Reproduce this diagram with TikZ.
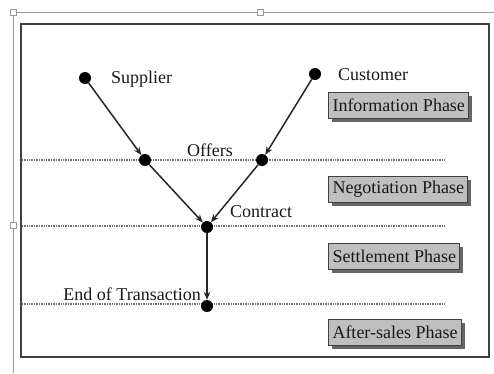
\documentclass[tikz,border=0pt]{standalone}
\usepackage{fontspec}
\setmainfont{Liberation Serif}
\usetikzlibrary{arrows.meta,shadows}
\tikzset{
  dot/.style={circle,fill=black,inner sep=0pt,minimum size=12pt},
  lbl/.style={font=\fontsize{18}{20}\selectfont,text=black!90,inner sep=0pt},
  phase/.style={draw=black!75,line width=1pt,fill=black!25,anchor=west,
    font=\fontsize{18}{20}\selectfont,text=black!90,inner xsep=4pt,minimum height=26pt,
    drop shadow={shadow xshift=3.5pt,shadow yshift=-3.5pt,fill=black!60,opacity=1}},
  flow/.style={line width=1.5pt,black!85,-{Stealth[length=8pt,width=6.5pt]}},
  sep/.style={line width=1.3pt,black!55,dash pattern=on 1pt off 0.7pt},
  handle/.style={draw=black!40,fill=white,line width=0.6pt,minimum size=6pt,inner sep=0pt},
}
\begin{document}
\begin{tikzpicture}[x=1pt,y=-1pt]
\useasboundingbox (0,0) rectangle (494,373);
% selection frame
\draw[black!40,line width=0.8pt] (13,12) -- (494,12);
\draw[black!40,line width=0.8pt] (13,12) -- (13,373);
\node[handle] (h1) at (13,12) {};
\node[handle] (h2) at (260,12) {};
\node[handle] (h3) at (13,225) {};
% main frame
\draw[black!75,line width=1.4pt] (21,24) rectangle (489,357);
% separators
\coordinate (s1a) at (22,160); \coordinate (s1b) at (445,160);
\coordinate (s2a) at (22,226); \coordinate (s2b) at (445,226);
\coordinate (s3a) at (22,304); \coordinate (s3b) at (445,304);
\draw[sep] (s1a) -- (s1b);
\draw[sep] (s2a) -- (s2b);
\draw[sep] (s3a) -- (s3b);
% dots
\node[dot] (sup) at (85,78) {};
\node[dot] (cus) at (315,74) {};
\node[dot] (offl) at (145,160) {};
\node[dot] (offr) at (262,160) {};
\node[dot] (con) at (207,227) {};
\node[dot] (end) at (207,306) {};
% connectors
\draw[flow] (sup) -- (offl);
\draw[flow] (cus) -- (offr);
\draw[flow] (offl) -- (con);
\draw[flow] (offr) -- (con);
\draw[flow] (con) -- (end);
% labels
\node[lbl,anchor=west] (tsup) at (111,79) {Supplier};
\node[lbl,anchor=west] (tcus) at (338,75) {Customer};
\node[lbl] (toff) at (210,150) {Offers};
\node[lbl,anchor=west] (tcon) at (230,212) {Contract};
\node[lbl,anchor=east] (tend) at (201,294) {End of Transaction};
% phase boxes
\node[phase] (p1) at (328,105) {Information Phase};
\node[phase] (p2) at (328,189) {Negotiation Phase};
\node[phase] (p3) at (328,256) {Settlement Phase};
\node[phase] (p4) at (328,332) {After-sales Phase};
\end{tikzpicture}
\end{document}
